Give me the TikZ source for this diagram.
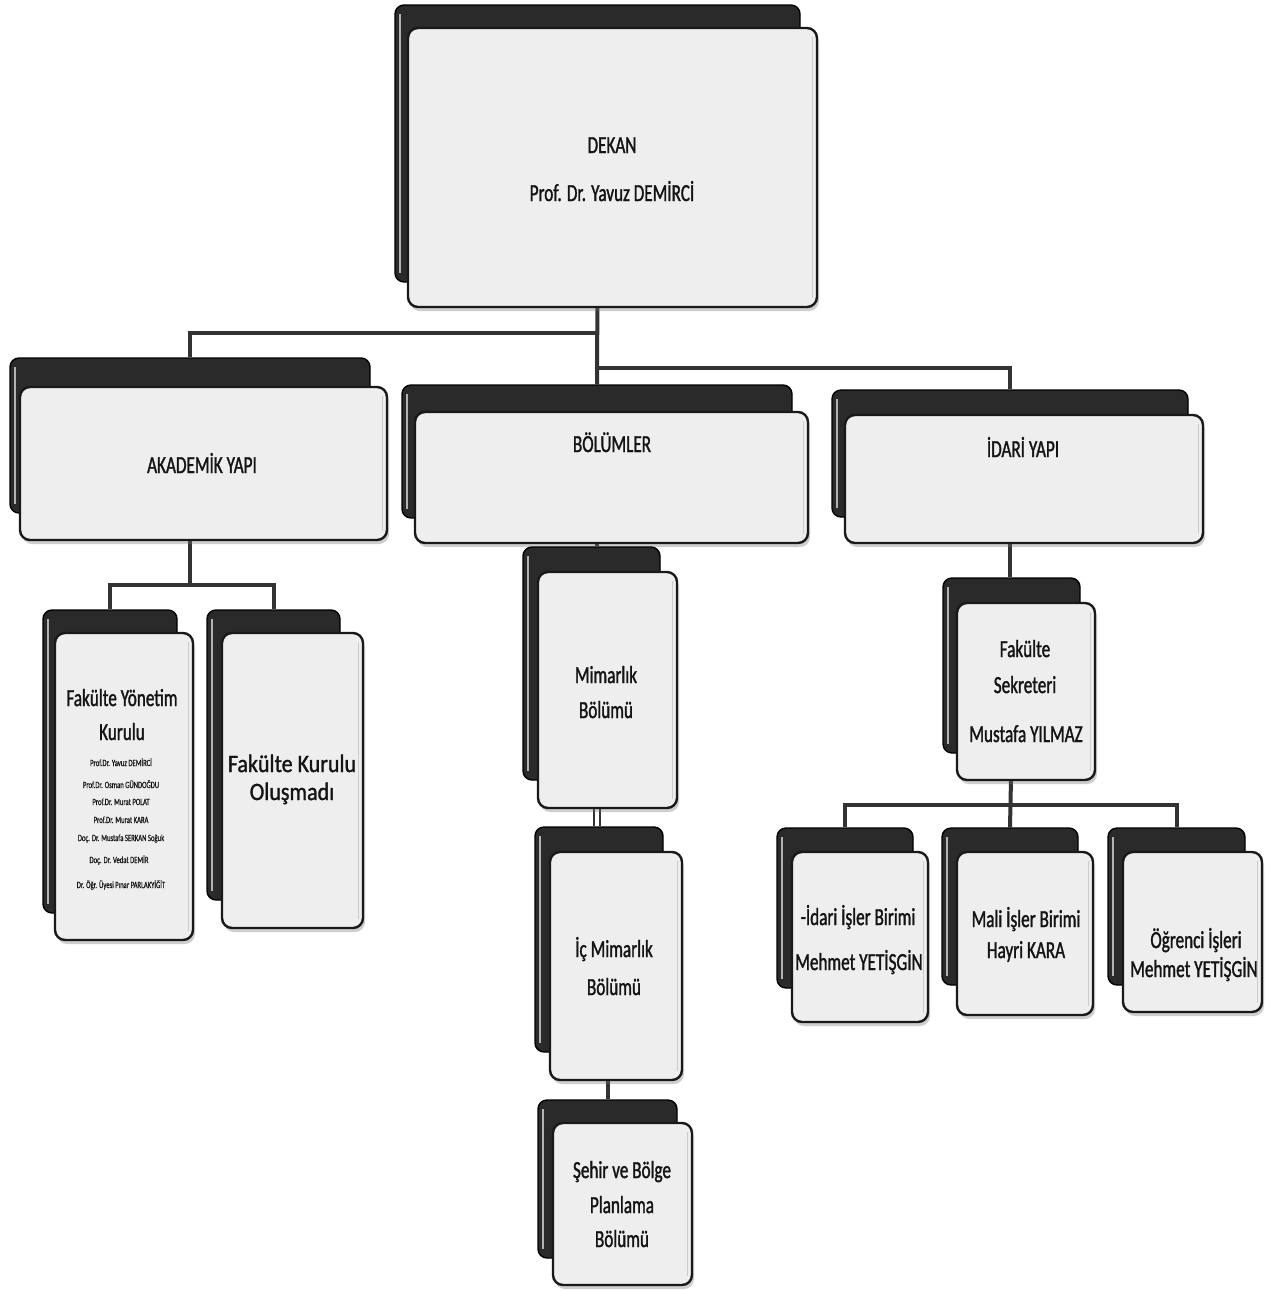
\documentclass[tikz,border=0pt]{standalone}
\usepackage{fontspec}
\setmainfont{Carlito}[FakeStretch=0.7,FakeBold=1.3]
\newfontfamily\widefont{Carlito}[FakeStretch=0.88,FakeBold=1.3]
\newfontfamily\smallfont{Carlito}[FakeStretch=0.7,FakeBold=0.6]
\usetikzlibrary{shadows}
\pgfdeclarelayer{background}
\pgfsetlayers{background,main}
\definecolor{bkfill}{HTML}{2A2A2A}
\definecolor{frfill}{HTML}{EEEEEE}
\definecolor{txt}{HTML}{141414}
\tikzset{
  backbox/.style={draw=black, line width=1.4pt, fill=bkfill, rounded corners=9pt, inner sep=0pt},
  frontbox/.style={draw=black!90, line width=2.4pt, fill=frfill, rounded corners=10pt, inner sep=0pt,
     drop shadow={shadow xshift=2pt, shadow yshift=-4pt, opacity=0.35, fill=black!55}},
  backhl/.style={draw=gray!60, line width=2pt},
  fronthl/.style={draw=gray!40, line width=1.2pt},
  conn/.style={draw=black!80, line width=4pt},
  connd/.style={draw=black!80, line width=2.2pt, double=white, double distance=3.5pt},
  lbl/.style={anchor=base, inner sep=0pt, text=txt, font=\fontsize{24.5}{29}\selectfont},
  lblbig/.style={lbl, font=\widefont\fontsize{25}{29}\selectfont},
  lblsmall/.style={lbl, font=\smallfont\fontsize{9.5}{11}\selectfont}
}
\newcommand\orgbox[9]{%
  \node[backbox, minimum width={(#4-#2)*1pt}, minimum height={(#5-#3)*1pt}] (#1b) at ({(#2+#4)/2},{(#3+#5)/2}) {};
  \draw[backhl] ([xshift=6pt,yshift=-10pt]#1b.north west) -- ([xshift=6pt,yshift=10pt]#1b.south west);
  \node[frontbox, minimum width={(#8-#6)*1pt}, minimum height={(#9-#7)*1pt}] (#1) at ({(#6+#8)/2},{(#7+#9)/2}) {};
  \draw[fronthl] ([xshift=-6pt,yshift=-10pt]#1.north east) -- ([xshift=-6pt,yshift=10pt]#1.south east);
}
\begin{document}
\begin{tikzpicture}[x=1pt,y=-1pt]
\useasboundingbox (0,0) rectangle (1270,1291);

% boxes
\orgbox{dekan}{395}{5}{800}{282}{408}{28}{817}{307}
\orgbox{akad}{10}{358}{370}{513}{20}{387}{387}{540}
\orgbox{bol}{402}{385}{792}{518}{415}{412}{808}{543}
\orgbox{idari}{832}{390}{1188}{517}{845}{415}{1203}{543}
\orgbox{fyk}{43}{610}{177}{913}{55}{633}{193}{940}
\orgbox{fk}{207}{610}{340}{900}{222}{633}{363}{928}
\orgbox{mim}{523}{547}{660}{780}{538}{572}{677}{808}
\orgbox{ic}{535}{827}{663}{1052}{550}{852}{682}{1080}
\orgbox{seh}{538}{1100}{677}{1258}{553}{1123}{692}{1285}
\orgbox{fs}{943}{578}{1080}{753}{957}{603}{1095}{780}
\orgbox{ida}{777}{828}{913}{988}{792}{852}{928}{1022}
\orgbox{mal}{942}{828}{1078}{985}{957}{852}{1093}{1015}
\orgbox{ogr}{1108}{828}{1245}{985}{1123}{852}{1262}{1012}

% connectors
\coordinate (jL) at (597,333);
\coordinate (jR) at (597,368);
\coordinate (jA) at (190,585);
\coordinate (jM) at (597,816);
\coordinate (jF) at (1010,805);
\begin{pgfonlayer}{background}
\fill[white] (0,0) rectangle (1270,1291);
\draw[conn] (dekanb.south) -- (bolb.north);
\draw[conn] (jL) -| (akadb.north);
\draw[conn] (jR) -| (idarib.north);
\draw[conn] (akadb.south) -- (jA);
\draw[conn] (fykb.north) |- (jA) -| (fkb.north);
\draw[conn] (bolb.south) -- (bolb.south |- mimb.north);
\draw[connd] (jM |- mim.south) -- (jM |- icb.north);
\draw[conn] (ic.south -| sehb.north) -- (sehb.north);
\draw[conn] (idarib.south) -- (idarib.south |- fsb.north);
\draw[conn] (fsb.south) -- (malb.north);
\draw[conn] (idab.north) |- (jF) -| (ogrb.north);
\end{pgfonlayer}

% texts
\node[lbl] (t1) at (612,153) {DEKAN};
\node[lbl] (t2) at (612,201) {Prof. Dr. Yavuz DEMİRCİ};
\node[lbl] (t3) at (202,473) {AKADEMİK YAPI};
\node[lbl] (t4) at (612,452) {BÖLÜMLER};
\node[lbl] (t5) at (1023,457) {İDARİ YAPI};
\node[lbl] (t6) at (122,706) {Fakülte Yönetim};
\node[lbl] (t7) at (122,740) {Kurulu};
\node[lblsmall] (s1) at (121,766) {Prof.Dr. Yavuz DEMİRCİ};
\node[lblsmall] (s2) at (121,788) {Prof.Dr. Osman GÜNDOĞDU};
\node[lblsmall] (s3) at (121,805) {Prof.Dr. Murat POLAT};
\node[lblsmall] (s4) at (121,823) {Prof.Dr. Murat KARA};
\node[lblsmall] (s5) at (121,841) {Doç. Dr. Mustafa SERKAN Soğuk};
\node[lblsmall] (s6) at (119,863) {Doç. Dr. Vedat DEMİR};
\node[lblsmall] (s7) at (121,888) {Dr. Öğr. Üyesi Pınar PARLAKYİĞİT};
\node[lblbig] (t8) at (292,772) {Fakülte Kurulu};
\node[lblbig] (t9) at (292,800) {Oluşmadı};
\node[lbl] (t10) at (606,683) {Mimarlık};
\node[lbl] (t11) at (606,718) {Bölümü};
\node[lbl] (t12) at (614,957) {İç Mimarlık};
\node[lbl] (t13) at (614,995) {Bölümü};
\node[lbl] (t14) at (622,1178) {Şehir ve Bölge};
\node[lbl] (t15) at (622,1213) {Planlama};
\node[lbl] (t16) at (622,1247) {Bölümü};
\node[lbl] (t17) at (1025,657) {Fakülte};
\node[lbl] (t18) at (1025,693) {Sekreteri};
\node[lbl] (t19) at (1026,742) {Mustafa YILMAZ};
\node[lbl] (t20) at (858,925) {-İdari İşler Birimi};
\node[lbl] (t21) at (859,970) {Mehmet YETİŞGİN};
\node[lbl] (t22) at (1026,927) {Mali İşler Birimi};
\node[lbl] (t23) at (1026,958) {Hayri KARA};
\node[lbl] (t24) at (1196,948) {Öğrenci İşleri};
\node[lbl] (t25) at (1194,977) {Mehmet YETİŞGİN};
\end{tikzpicture}
\end{document}
